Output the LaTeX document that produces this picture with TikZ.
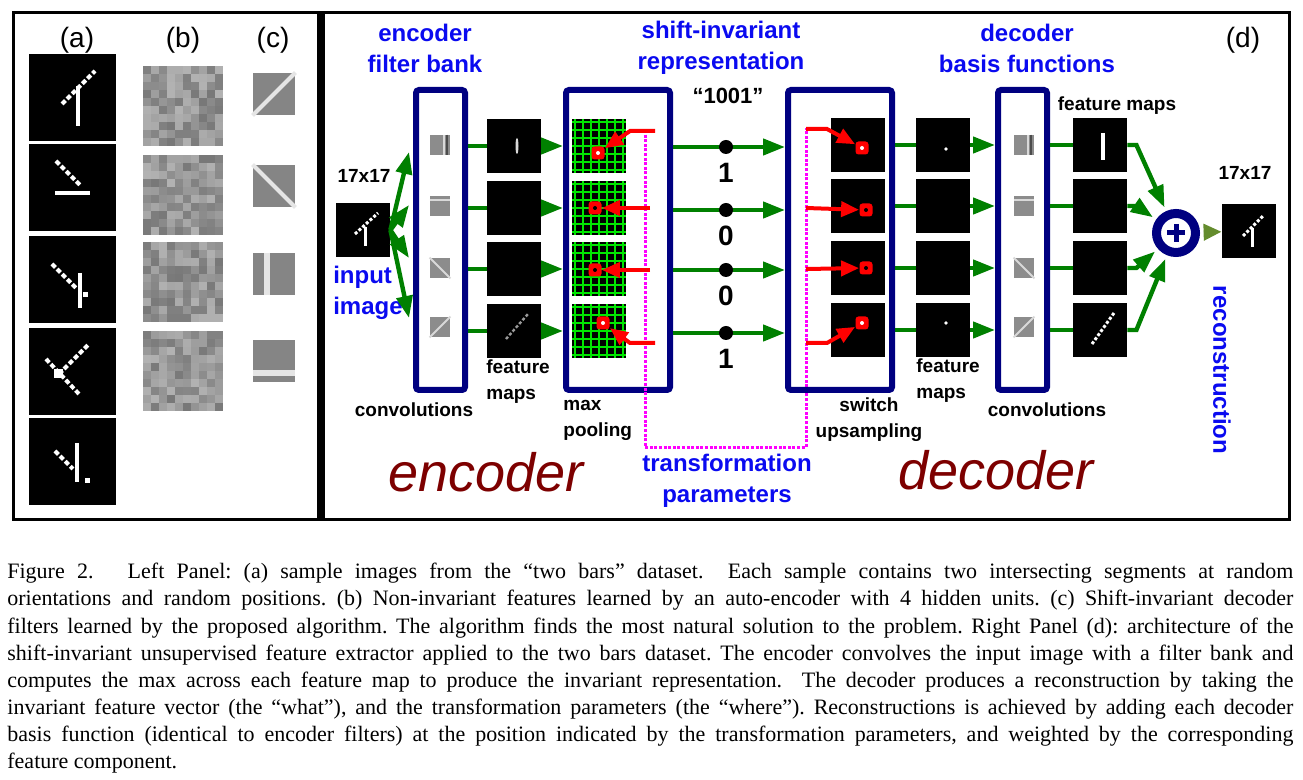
\documentclass[tikz,border=0pt]{standalone}
\usepackage{fontspec}
\setmainfont{Liberation Serif}
\setsansfont{Liberation Sans}
\usepackage{xcolor}
\usepackage{tikz}
\usetikzlibrary{arrows.meta,positioning,calc}

\definecolor{navy}{RGB}{0,0,128}
\definecolor{arrowgreen}{RGB}{0,128,0}
\definecolor{gridgreen}{RGB}{0,230,0}
\definecolor{titleblue}{RGB}{10,10,240}
\definecolor{wordred}{RGB}{125,0,0}
\definecolor{sumgreen}{RGB}{100,140,45}
\definecolor{pathpink}{RGB}{255,0,255}

\begin{document}
\begin{tikzpicture}[x=0.5pt, y=-0.5pt,
    fmap/.style={fill=black, minimum size=27pt, inner sep=0pt},
    sample/.style={fill=black, minimum size=43.5pt, inner sep=0pt},
    noisy/.style={minimum size=40pt, inner sep=0pt},
    learned/.style={fill=black!48, minimum size=21pt, inner sep=0pt},
    ficon/.style={fill=black!45, minimum size=10pt, inner sep=0pt},
    bank/.style={draw=navy, line width=3pt, rounded corners=1.5pt, minimum width=24.5pt, minimum height=150pt, inner sep=0pt},
    garrow/.style={arrowgreen, line width=2.2pt, -{Triangle[length=11pt,width=8pt]}},
    gline/.style={arrowgreen, line width=2.2pt},
    rarrow/.style={red, line width=2pt, -{Triangle[length=9pt,width=7.5pt]}},
    sumarrow/.style={sumgreen, line width=2pt, -{Triangle[length=9pt,width=8pt]}},
    switchbox/.style={fill=red, rounded corners=1.5pt, minimum size=6.5pt, inner sep=0pt},
    pix/.style={white, line width=2pt},
    dotpix/.style={white, line width=2pt, dash pattern=on 2.4pt off 1.2pt},
    gridline/.style={gridgreen, line width=0.7pt},
    pinkpath/.style={pathpink, line width=1.5pt, dash pattern=on 1.5pt off 0.8pt},
    title/.style={font=\sffamily\bfseries\fontsize{12}{15.5}\selectfont, text=titleblue, align=center},
    lbl/.style={font=\sffamily\bfseries\fontsize{9.5}{13}\selectfont, inner sep=0pt},
    panel/.style={font=\sffamily\fontsize{14}{16}\selectfont},
    bigword/.style={font=\sffamily\itshape\fontsize{27}{30}\selectfont, text=wordred},
    digit/.style={font=\sffamily\bfseries\fontsize{14}{16}\selectfont}]

    \useasboundingbox (0,0) rectangle (1303,780);
    \fill[white] (0,0) rectangle (1303,780);

    % Frames
    \draw[line width=1.5pt] (13,13) rectangle (1289,520);
    \draw[line width=4pt] (321,13) -- (321,520);

    % Left panel: samples, non-invariant and learned filters
    \node[panel] (la) at (77,40) {(a)};
    \node[panel] (lb) at (183,40) {(b)};
    \node[panel] (lc) at (273,40) {(c)};
    \foreach \y [count=\i] in {98,188,280,372,462}
        \node[sample] (s\i) at (72,\y) {};
    \draw[pix] (78,86) -- (78,126);
    \draw[dotpix] (62,104) -- (95,71);
    \draw[dotpix] (56,161) -- (81,186);
    \draw[pix] (55,193) -- (90,193);
    \draw[dotpix] (52,264) -- (76,288);
    \draw[pix] (80,273) -- (80,308);
    \fill[white] (83,292) rectangle (88,297);
    \draw[dotpix] (59,374) -- (89,344);
    \draw[dotpix] (46,359) -- (79,394);
    \fill[white] (54,369) rectangle (63,378);
    \draw[dotpix] (55,451) -- (73,469);
    \draw[pix] (77,443) -- (77,482);
    \fill[white] (85,478) rectangle (90,483);

    \pgfmathsetseed{17}
    \foreach \y [count=\i] in {106,195,282,371} {
        \node[noisy] (n\i) at (183,\y) {};
        \foreach \u in {0,...,9}
            \foreach \v in {0,...,9} {
                \pgfmathsetmacro\gl{int(30+24*rnd)}
                \fill[black!\gl] (143+8*\u,\y-40+8*\v) rectangle ++(8,8);
            }
    }

    \foreach \y [count=\i] in {94,186,274,361}
        \node[learned] (c\i) at (274,\y) {};
    \draw[white!90!black, line width=2pt] (c1.south west) -- (c1.north east);
    \draw[white!90!black, line width=2pt] (c2.north west) -- (c2.south east);
    \draw[white!90!black, line width=3pt] ($(c3.north)+(-7,0)$) -- ($(c3.south)+(-7,0)$);
    \draw[white!90!black, line width=3pt] ($(c4.west)+(0,12)$) -- ($(c4.east)+(0,12)$);

    % Titles
    \node[title] (enctitle) at (425,48) {encoder\\filter bank};
    \node[title] (shifttitle) at (721,48) {shift-invariant\\representation};
    \node[title] (dectitle) at (1027,48) {decoder\\basis functions};
    \node[panel] (ld) at (1243,40) {(d)};

    % Input image
    \node[fmap] (input) at (363,230) {};
    \draw[pix, line width=1.5pt] (365,227) -- (365,246);
    \draw[dotpix, line width=1.5pt, dash pattern=on 1.5pt off 1pt] (355,234) -- (378,213);
    \node[lbl] (insize) at (364,176) {17x17};
    \node[title, align=left] (inlabel) at (368,293) {input\\image};

    % Encoder
    \node[bank] (encbank) at (440.5,240) {};
    \node[bank, minimum width=52pt] (pool) at (618,240) {};
    \foreach \y [count=\i] in {152,205,258,318} {
        \coordinate (fan\i) at (409,\y);
        \draw[garrow] (input.east) -- (fan\i);
    }
    \foreach \f/\x in {ef/440,df/1024} {
        \foreach \y [count=\i] in {145,206,268,327}
            \node[ficon] (\f\i) at (\x,\y) {};
        \draw[white!85!black, line width=1pt] ($(\f1.north)+(4,0)$) -- ($(\f1.south)+(4,0)$);
        \draw[black!70, line width=0.6pt] ($(\f1.north)+(7,0)$) -- ($(\f1.south)+(7,0)$);
        \draw[white!85!black, line width=1pt] ($(\f2.north west)+(0,4)$) -- ($(\f2.north east)+(0,4)$);
        \draw[white!85!black, line width=1pt] (\f3.north west) -- (\f3.south east);
        \draw[white!85!black, line width=1pt] (\f4.south west) -- (\f4.north east);
    }
    \foreach \y [count=\i] in {146,208,269,331} {
        \node[fmap] (em\i) at (514,\y) {};
        \node[fmap] (pg\i) at (599,\y) {};
        \foreach \k in {-24,-16,...,24} {
            \draw[gridline] (599+\k,\y-27) -- (599+\k,\y+27);
            \draw[gridline] (572,\y+\k) -- (626,\y+\k);
        }
        \draw[gline] (encbank.east |- em\i) -- (em\i);
        \draw[garrow] (em\i) -- (pool.west |- em\i);
    }
    \fill[white!85!black] (517,146) ellipse (0.75pt and 4pt);
    \draw[white!60!black, line width=1.2pt, dash pattern=on 1.5pt off 1pt] (506,339) -- (528,314);

    % Max pooling switches
    \foreach \sx/\sy/\c [count=\i] in {598/153/white,595/208/black,595/270/black,603/323/white} {
        \node[switchbox] (es\i) at (\sx,\sy) {};
        \fill[\c] (es\i) circle (1pt);
    }
    \coordinate (tp1) at (645,130);
    \coordinate (tp2) at (806,128);
    \node[title] (tparams) at (727,481) {transformation\\parameters};
    \draw[pinkpath] (tp1) |- (tparams.north) -| (tp2);
    \coordinate (et1) at (655,131);
    \coordinate (et2) at (650,208);
    \coordinate (et3) at (650,270);
    \coordinate (et4) at (655,343);
    \draw[rarrow] (et1) -- ++(-25,0) -- (es1);
    \draw[rarrow] (et2) -- (es2);
    \draw[rarrow] (et3) -- (es3);
    \draw[rarrow] (et4) -- ++(-25,0) -- (es4);

    % Invariant code
    \node[bank, minimum width=52pt] (ups) at (840,240) {};
    \node[lbl, font=\sffamily\bfseries\fontsize{11}{13}\selectfont] (code) at (728,96) {``1001''};
    \foreach \y/\b [count=\i] in {147/1,210/0,270/0,333/1} {
        \coordinate (row\i) at (726,\y);
        \draw[garrow] (pool.east |- row\i) -- (ups.west |- row\i);
        \node[circle, fill=black, minimum size=7pt, inner sep=0pt] (bit\i) at (row\i) {};
        \node[digit] (val\i) at (726,\y+26) {\b};
    }

    % Decoder
    \node[bank] (decbank) at (1022.5,240) {};
    \foreach \y [count=\i] in {145,206,268,330} {
        \node[fmap] (um\i) at (858,\y) {};
        \node[fmap] (dm\i) at (943,\y) {};
        \node[fmap] (om\i) at (1100,\y) {};
        \draw[gline] (ups.east |- dm\i) -- (dm\i);
        \draw[garrow] (dm\i) -- (decbank.west |- dm\i);
        \draw[gline] (decbank.east |- om\i) -- (om\i);
    }
    \fill[white] ($(dm1)+(3,4)$) circle (0.9pt);
    \fill[white] ($(dm4)+(3,-7)$) circle (0.9pt);
    \draw[pix] (1103,133) -- (1103,160);
    \draw[dotpix, line width=1.5pt, dash pattern=on 1.5pt off 1pt] (1092,344) -- (1114,313);

    % Upsampling switches
    \foreach \sx/\sy/\c [count=\i] in {862/148/white,866/210/black,866/268/black,862/323/white} {
        \node[switchbox] (ds\i) at (\sx,\sy) {};
        \fill[\c] (ds\i) circle (1pt);
    }
    \coordinate (dt1) at (806,129);
    \coordinate (dt2) at (806,208);
    \coordinate (dt3) at (806,269);
    \coordinate (dt4) at (806,343);
    \draw[rarrow] (dt1) -- ++(21,0) -- (ds1);
    \draw[rarrow] (dt2) -- (ds2);
    \draw[rarrow] (dt3) -- (ds3);
    \draw[rarrow] (dt4) -- ++(21,0) -- (ds4);

    % Sum and reconstruction
    \node[circle, draw=navy, line width=4.5pt, minimum size=19.5pt, inner sep=0pt] (sum) at (1176,233) {};
    \draw[navy, line width=2.5pt] ($(sum)+(-9,0)$) -- ($(sum)+(9,0)$);
    \draw[navy, line width=2.5pt] ($(sum)+(0,-9)$) -- ($(sum)+(0,9)$);
    \foreach \i in {1,...,4}
        \draw[garrow, shorten >=2pt] (om\i.east) -- ++(9,0) -- (sum);
    \node[fmap] (output) at (1249,231) {};
    \draw[sumarrow, shorten <=2pt] (sum) -- (output);
    \draw[pix, line width=1.5pt] (1252,228) -- (1252,247);
    \draw[dotpix, line width=1.5pt, dash pattern=on 1.5pt off 1pt] (1243,236) -- (1264,215);

    % Labels
    \node[lbl] (encconv) at (414,410) {convolutions};
    \node[lbl, align=left, anchor=west] (encfm) at (486,382) {feature\\maps};
    \node[lbl, align=left, anchor=west] (poollbl) at (563,420) {max\\pooling};
    \node[lbl, align=center] (upslbl) at (869,420) {switch\\upsampling};
    \node[lbl, align=left, anchor=west] (decfm) at (916,381) {feature\\maps};
    \node[lbl] (decconv) at (1047,410) {convolutions};
    \node[lbl] (outfm) at (1117,106) {feature maps};
    \node[lbl] (outsize) at (1245,173) {17x17};
    \node[title, rotate=-90] (recon) at (1222,370) {reconstruction};
    \node[bigword] (encword) at (486,472) {encoder};
    \node[bigword] (decword) at (996,470) {decoder};

    % Caption
    \node[anchor=north west, text width=643pt, inner sep=0pt, align=justify,
          font=\rmfamily\fontsize{11}{13.55}\selectfont\frenchspacing] (caption) at (7,563)
        {Figure 2.\quad\ Left Panel: (a) sample images from the ``two bars'' dataset.\ \ Each sample contains two intersecting segments at random\linebreak
        orientations and random positions. (b) Non-invariant features learned by an auto-encoder with 4 hidden units. (c) Shift-invariant decoder\linebreak
        filters learned by the proposed algorithm. The algorithm finds the most natural solution to the problem. Right Panel (d): architecture of the\linebreak
        shift-invariant unsupervised feature extractor applied to the two bars dataset. The encoder convolves the input image with a filter bank and\linebreak
        computes the max across each feature map to produce the invariant representation.\ \ The decoder produces a reconstruction by taking the\linebreak
        invariant feature vector (the ``what''), and the transformation parameters (the ``where''). Reconstructions is achieved by adding each decoder\linebreak
        basis function (identical to encoder filters) at the position indicated by the transformation parameters, and weighted by the corresponding\linebreak
        feature component.};
\end{tikzpicture}
\end{document}
